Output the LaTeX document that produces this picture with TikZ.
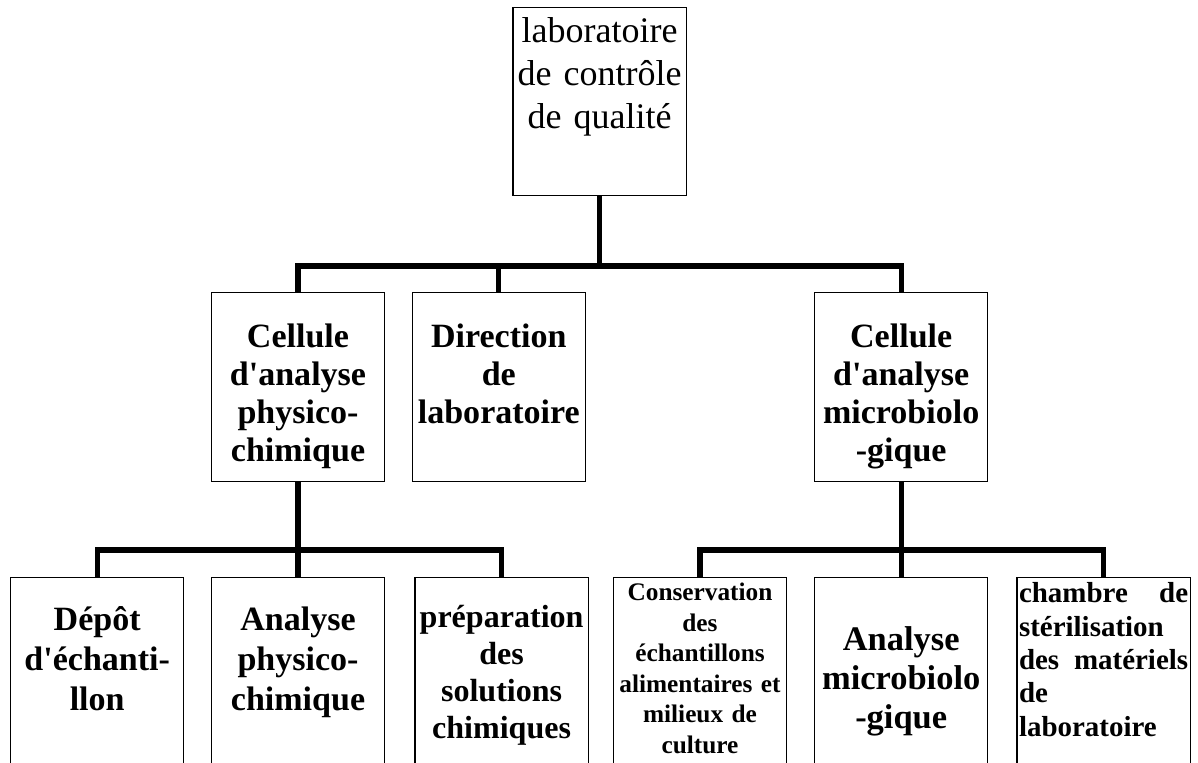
\documentclass[tikz,border=0pt]{standalone}
\usepackage{fontspec}
\setmainfont{Liberation Serif}
\tikzset{
  box/.style={draw, line width=0.8pt, inner xsep=0.5mm, inner ysep=0pt, text width=4.23cm, align=center, font=\bfseries\fontsize{24.2}{27}\selectfont},
  mid/.style={box, text height=1.375cm, text depth=3.35cm},
  low/.style={box, text height=#1, text depth=4.5cm},
  link/.style={line width=3.6pt},
}
\begin{document}
\begin{tikzpicture}[anchor=north]
\clip (0,0) rectangle (29.95,19.075);
\node[box, font=\fontsize{25.6}{30.6}\selectfont, text height=0.875cm, text depth=3.825cm] (lab) at (14.99,18.9) {laboratoire\\de contrôle\\de qualité};
\node[mid] (phys) at (7.45,11.775) {Cellule\\d\textquotesingle analyse\\physico-\\chimique};
\node[mid] (dir) at (12.47,11.775) {Direction\\de\\laboratoire};
\node[mid] (micro) at (22.53,11.775) {Cellule\\d\textquotesingle analyse\\microbiolo\\-gique};
\node[low=1.325cm, font=\bfseries\fontsize{24.2}{28.5}\selectfont] (depot) at (2.43,4.65) {Dépôt\\d\textquotesingle échanti-\\llon};
\node[low=1.325cm, font=\bfseries\fontsize{24.2}{28.5}\selectfont] (anaphys) at (7.45,4.65) {Analyse\\physico-\\chimique};
\node[low=1.25cm, font=\bfseries\fontsize{22.8}{26.3}\selectfont] (prep) at (12.54,4.65) {préparation\\des\\solutions\\chimiques};
\node[low=0.575cm, font=\bfseries\fontsize{18}{21.7}\selectfont] (cons) at (17.5,4.65) {Conservation\\des\\échantillons\\alimentaires et\\milieux de\\culture};
\node[low=1.825cm, font=\bfseries\fontsize{24.5}{27.7}\selectfont] (anamicro) at (22.53,4.65) {Analyse\\microbiolo\\-gique};
\node[low=0.625cm, align=left, font=\bfseries\fontsize{20.6}{23.8}\selectfont] (steril) at (27.59,4.65) {\makebox[\linewidth][s]{chambre\hfill de}\\stérilisation\\\makebox[\linewidth][s]{des\hfill matériels}\\de\\laboratoire};
\coordinate (t) at (14.99,12.425);\coordinate (l) at (7.45,5.325);\coordinate (r) at (22.53,5.325);
\draw[link] (lab) -- (t);
\draw[link] (t) -| (phys);\draw[link] (t) -| (dir);\draw[link] (t) -| (micro);
\draw[link] (phys) -- (l);
\draw[link] (l) -| (depot);\draw[link] (l) -- (anaphys);\draw[link] (l) -| (prep);
\draw[link] (micro) -- (r);
\draw[link] (r) -| (cons);\draw[link] (r) -- (anamicro);\draw[link] (r) -| (steril);
\end{tikzpicture}
\end{document}
